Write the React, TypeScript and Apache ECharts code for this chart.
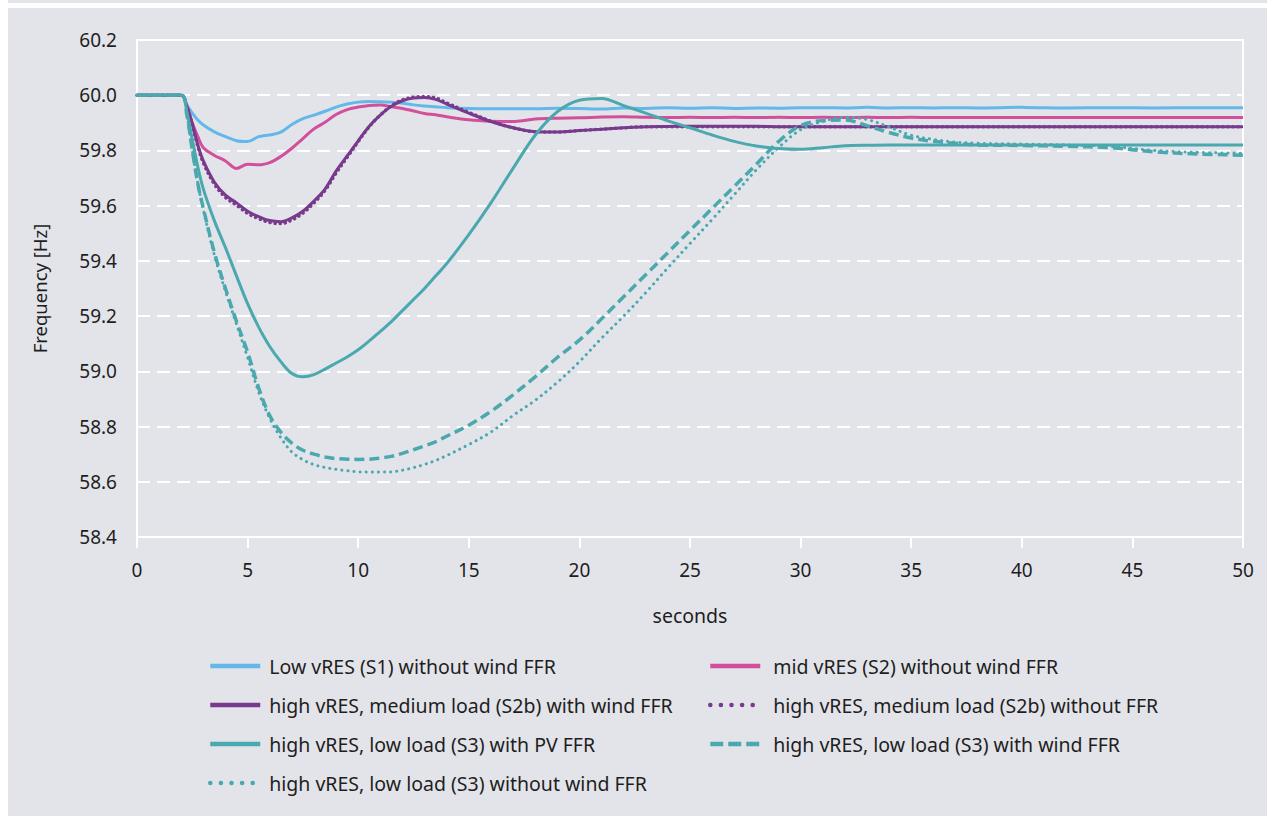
import React, { useEffect, useRef } from "react";
import * as echarts from "echarts";

// Time axis shared by every scenario (seconds after the disturbance run start)
const seconds = [
  0, 2, 2.25, 2.5, 2.75, 3, 3.5, 4, 4.5, 5, 5.5, 6, 6.5, 7, 7.5, 8, 8.5, 9, 9.5, 10,
  10.5, 11, 11.5, 12, 12.5, 13, 13.5, 14, 15, 16, 17, 18, 19, 20, 21, 22, 23, 24, 25,
  26, 27, 28, 29, 30, 31, 32, 33, 34, 35, 36, 37, 38, 40, 42, 44, 46, 48, 50,
];

// Frequency [Hz] per scenario, one value per entry of `seconds`
const lowS1 = [
  60, 60, 59.965, 59.935, 59.91, 59.892, 59.867, 59.85, 59.835, 59.832, 59.85, 59.856,
  59.866, 59.894, 59.915, 59.928, 59.942, 59.957, 59.968, 59.975, 59.977, 59.976,
  59.975, 59.971, 59.965, 59.961, 59.958, 59.955, 59.952, 59.951, 59.951, 59.951,
  59.953, 59.952, 59.95, 59.954, 59.952, 59.955, 59.953, 59.955, 59.952, 59.954,
  59.953, 59.955, 59.955, 59.954, 59.956, 59.954, 59.955, 59.954, 59.955, 59.954,
  59.956, 59.954, 59.955, 59.954, 59.955, 59.955,
];

const midS2 = [
  60, 60, 59.96, 59.9, 59.85, 59.81, 59.782, 59.762, 59.735, 59.75, 59.748, 59.756,
  59.778, 59.808, 59.843, 59.878, 59.902, 59.93, 59.948, 59.957, 59.963, 59.965,
  59.958, 59.952, 59.943, 59.934, 59.929, 59.922, 59.911, 59.906, 59.905, 59.914,
  59.917, 59.918, 59.921, 59.922, 59.92, 59.919, 59.92, 59.919, 59.92, 59.919, 59.92,
  59.919, 59.92, 59.919, 59.92, 59.919, 59.92, 59.919, 59.919, 59.919, 59.919, 59.919,
  59.919, 59.919, 59.919, 59.919,
];

const highS2bWindFfr = [
  60, 60, 59.96, 59.895, 59.82, 59.762, 59.685, 59.638, 59.61, 59.58, 59.56, 59.546,
  59.542, 59.556, 59.58, 59.617, 59.66, 59.725, 59.78, 59.835, 59.888, 59.928, 59.96,
  59.98, 59.99, 59.992, 59.985, 59.968, 59.935, 59.905, 59.882, 59.868, 59.867, 59.872,
  59.877, 59.882, 59.886, 59.887, 59.888, 59.888, 59.888, 59.888, 59.886, 59.886,
  59.886, 59.886, 59.886, 59.886, 59.886, 59.886, 59.886, 59.886, 59.886, 59.886,
  59.886, 59.886, 59.886, 59.886,
];

const highS2bNoFfr = [
  60, 60, 59.96, 59.892, 59.815, 59.755, 59.678, 59.63, 59.602, 59.572, 59.553, 59.539,
  59.535, 59.548, 59.573, 59.61, 59.655, 59.718, 59.775, 59.832, 59.886, 59.928, 59.962,
  59.983, 59.993, 59.995, 59.99, 59.972, 59.938, 59.906, 59.882, 59.868, 59.867, 59.872,
  59.877, 59.882, 59.886, 59.886, 59.886, 59.886, 59.886, 59.886, 59.886, 59.886,
  59.886, 59.886, 59.886, 59.886, 59.886, 59.886, 59.886, 59.886, 59.886, 59.886,
  59.886, 59.886, 59.886, 59.886,
];

const lowLoadS3PvFfr = [
  60, 60, 59.94, 59.84, 59.74, 59.66, 59.545, 59.448, 59.345, 59.245, 59.16, 59.09,
  59.035, 58.992, 58.98, 58.988, 59.008, 59.03, 59.052, 59.078, 59.11, 59.145, 59.18,
  59.22, 59.26, 59.3, 59.345, 59.39, 59.495, 59.61, 59.735, 59.855, 59.94, 59.982, 59.988,
  59.962, 59.935, 59.907, 59.882, 59.856, 59.833, 59.816, 59.807, 59.804, 59.81, 59.817,
  59.819, 59.82, 59.82, 59.82, 59.82, 59.82, 59.82, 59.82, 59.82, 59.82, 59.82, 59.82,
];

const lowLoadS3WindFfr = [
  60, 60, 59.93, 59.8, 59.68, 59.59, 59.43, 59.3, 59.18, 59.07, 58.94, 58.84, 58.78,
  58.74, 58.714, 58.7, 58.69, 58.684, 58.682, 58.681, 58.682, 58.686, 58.692, 58.703,
  58.716, 58.73, 58.745, 58.765, 58.805, 58.855, 58.915, 58.98, 59.05, 59.113, 59.19,
  59.27, 59.35, 59.43, 59.51, 59.59, 59.67, 59.75, 59.832, 59.89, 59.908, 59.91, 59.89,
  59.865, 59.845, 59.833, 59.826, 59.82, 59.818, 59.815, 59.81, 59.795, 59.787, 59.783,
];

const lowLoadS3NoWindFfr = [
  60, 60, 59.93, 59.8, 59.68, 59.585, 59.42, 59.29, 59.17, 59.05, 58.925, 58.83, 58.76,
  58.708, 58.68, 58.662, 58.652, 58.645, 58.64, 58.636, 58.635, 58.635, 58.636, 58.642,
  58.651, 58.663, 58.677, 58.695, 58.735, 58.78, 58.84, 58.895, 58.96, 59.035, 59.12,
  59.2, 59.285, 59.375, 59.463, 59.55, 59.64, 59.73, 59.81, 59.875, 59.905, 59.92,
  59.912, 59.885, 59.855, 59.84, 59.83, 59.826, 59.823, 59.82, 59.815, 59.8, 59.793,
  59.79,
];

const xTicks = { min: 0, max: 50, interval: 5 };
const yTicks = { min: 58.4, max: 60.2, interval: 0.2 };

const names = {
  s1: "Low vRES (S1) without wind FFR",
  s2: "mid vRES (S2) without wind FFR",
  s2bWind: "high vRES, medium load (S2b) with wind FFR",
  s2bNone: "high vRES, medium load (S2b) without FFR",
  s3Pv: "high vRES, low load (S3) with PV FFR",
  s3Wind: "high vRES, low load (S3) with wind FFR",
  s3None: "high vRES, low load (S3) without wind FFR",
};

const BLUE = "#63b8ea";
const PINK = "#d2509b";
const PURPLE = "#783a8c";
const TEAL = "#4aa8af";
const BG = "#e3e4e9";
const FONT = '"Noto Sans", sans-serif';
const TEXT = "#1e1e1e";

const pairs = (values: number[]) => seconds.map((t, i) => [t, values[i]]);

function lineSeries(name: string, values: number[], color: string, type: any, width: number, cap = "butt") {
  return {
    type: "line",
    name,
    data: pairs(values),
    showSymbol: false,
    symbol: "none",
    smooth: 0.35,
    lineStyle: { color, width, type, cap },
    itemStyle: { color },
    emphasis: { disabled: true },
  };
}

const legendText = (padLeft: number) => ({
  fontFamily: FONT,
  fontSize: 19.5,
  color: TEXT,
  lineHeight: 20,
  padding: [0, 0, 0, padLeft],
});

// legend entries show the line only, without the default marker
const hideMarker = { opacity: 0 };

export default function App() {
  const ref = useRef<HTMLDivElement>(null);

  useEffect(() => {
    const chart = echarts.init(ref.current!, null, { renderer: "svg" });
    const dotted = { type: [0.1, 10.5], cap: "round", width: 4.5 };
    const solid = { width: 4.5 };
    chart.setOption({
      animation: false,
      backgroundColor: BG,
      textStyle: { fontFamily: FONT },
      grid: {
        left: 129,
        top: 32,
        right: 24,
        bottom: 279,
        show: true,
        borderColor: "#ffffff",
        borderWidth: 2,
        backgroundColor: "transparent",
      },
      xAxis: {
        type: "value",
        ...xTicks,
        name: "seconds",
        nameLocation: "middle",
        nameGap: 68,
        nameTextStyle: { fontFamily: FONT, fontSize: 19.5, color: TEXT },
        axisLine: { show: true, lineStyle: { color: "#ffffff", width: 2 } },
        axisTick: { show: true, length: 11, lineStyle: { color: "#ffffff", width: 2 } },
        axisLabel: { margin: 23, fontFamily: FONT, fontSize: 19, color: TEXT },
        splitLine: { show: false },
      },
      yAxis: {
        type: "value",
        ...yTicks,
        name: "Frequency [Hz]",
        nameLocation: "middle",
        nameGap: 88,
        nameTextStyle: { fontFamily: FONT, fontSize: 18.5, color: TEXT },
        axisLine: { show: true, lineStyle: { color: "#ffffff", width: 2 } },
        axisTick: { show: false },
        axisLabel: {
          margin: 20,
          fontFamily: FONT,
          fontSize: 19,
          color: TEXT,
          formatter: (v: number) => v.toFixed(1),
        },
        splitLine: { show: true, lineStyle: { color: "#ffffff", width: 2, type: [13, 7] } },
      },
      legend: [
        {
          orient: "vertical",
          left: 200,
          top: 648,
          padding: 0,
          itemWidth: 50,
          itemHeight: 14,
          itemGap: 19,
          textStyle: legendText(4),
          selectedMode: false,
          itemStyle: hideMarker,
          data: [
            { name: names.s1, lineStyle: solid, itemStyle: hideMarker },
            { name: names.s2bWind, lineStyle: solid, itemStyle: hideMarker },
            { name: names.s3Pv, lineStyle: solid, itemStyle: hideMarker },
            { name: names.s3None, lineStyle: dotted, itemStyle: hideMarker },
          ],
        },
        {
          orient: "vertical",
          left: 700,
          top: 648,
          padding: 0,
          itemWidth: 50,
          itemHeight: 14,
          itemGap: 19,
          textStyle: legendText(8),
          selectedMode: false,
          itemStyle: hideMarker,
          data: [
            { name: names.s2, lineStyle: solid, itemStyle: hideMarker },
            { name: names.s2bNone, lineStyle: dotted, itemStyle: hideMarker },
            { name: names.s3Wind, lineStyle: { type: [13, 5], width: 4.5 }, itemStyle: hideMarker },
          ],
        },
      ],
      series: [
        lineSeries(names.s1, lowS1, BLUE, "solid", 3),
        lineSeries(names.s2, midS2, PINK, "solid", 3),
        lineSeries(names.s2bWind, highS2bWindFfr, PURPLE, "solid", 3),
        lineSeries(names.s2bNone, highS2bNoFfr, PURPLE, [0.1, 5], 3.5, "round"),
        lineSeries(names.s3Pv, lowLoadS3PvFfr, TEAL, "solid", 3),
        lineSeries(names.s3Wind, lowLoadS3WindFfr, TEAL, [10, 5], 3.5),
        lineSeries(names.s3None, lowLoadS3NoWindFfr, TEAL, [0.1, 6], 3, "round"),
      ],
    });
    return () => chart.dispose();
  }, []);

  return (
    <>
      <div style={{ position: "fixed", left: 8, top: 0, width: 1259, height: 3, background: BG }} />
      <div
        ref={ref}
        style={{ position: "fixed", left: 8, top: 8, width: 1259, height: 808, background: BG }}
      />
    </>
  );
}
